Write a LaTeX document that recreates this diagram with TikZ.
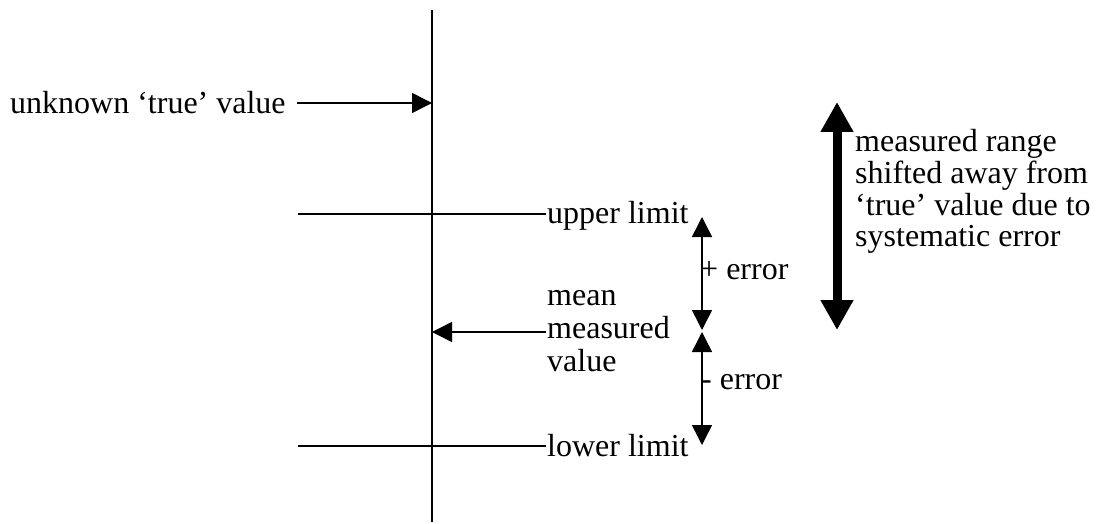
\documentclass[tikz,border=0pt]{standalone}
\usepackage{fontspec}
\setmainfont{Liberation Serif}
\usetikzlibrary{arrows.meta}
\tikzset{
  thin line/.style={line width=1.5pt},
  head/.style={-{Triangle[length=20pt,width=20pt]}},
  lbl/.style={inner sep=0pt,anchor=base west,font=\fontsize{32}{32}\selectfont},
}
\begin{document}
\begin{tikzpicture}[x=1pt,y=1pt]
\useasboundingbox (0,0) rectangle (1098,-524);
% axis
\coordinate (vtop) at (432,-10);
\coordinate (vbot) at (432,-522);
\draw[thin line] (vtop) -- (vbot);
% unknown true value
\node[lbl] (unk) at (10,-114) {unknown ‘true’ value};
\coordinate (unkS) at (297,-103);
\coordinate (unkE) at (432,-103);
\draw[thin line,head] (unkS) -- (unkE);
% upper limit
\coordinate (ulS) at (298,-214);
\coordinate (ulE) at (546,-214);
\draw[thin line] (ulS) -- (ulE);
\node[lbl] (ul) at (547,-223) {upper limit};
% lower limit
\coordinate (llS) at (298,-446);
\coordinate (llE) at (546,-446);
\draw[thin line] (llS) -- (llE);
\node[lbl] (ll) at (547,-456) {lower limit};
% mean measured value
\node[lbl] (m1) at (547,-305) {mean};
\node[lbl] (m2) at (547,-338) {measured};
\node[lbl] (m3) at (547,-371) {value};
\coordinate (mS) at (546,-332);
\coordinate (mE) at (432,-332);
\draw[thin line,head] (mS) -- (mE);
% error bars
\coordinate (eTop) at (702,-217);
\coordinate (eMid1) at (702,-330);
\coordinate (eMid2) at (702,-332);
\coordinate (eBot) at (702,-445);
\draw[thin line,{Triangle[length=20pt,width=20pt]}-{Triangle[length=20pt,width=20pt]}] (eTop) -- (eMid1);
\draw[thin line,{Triangle[length=20pt,width=20pt]}-{Triangle[length=20pt,width=20pt]}] (eMid2) -- (eBot);
\node[lbl] (pe) at (700,-279) {+ error};
\node[lbl] (ne) at (701,-389) {- error};
% systematic shift
\coordinate (sTop) at (837,-102);
\coordinate (sBot) at (837,-330);
\draw[line width=9pt,{Triangle[length=30pt,width=31pt]}-{Triangle[length=30pt,width=31pt]}] (sTop) -- (sBot);
\node[lbl] (s1) at (855,-152) {measured range};
\node[lbl] (s2) at (855,-183) {shifted away from};
\node[lbl] (s3) at (855,-215) {‘true’ value due to};
\node[lbl] (s4) at (855,-246) {systematic error};
\end{tikzpicture}
\end{document}
